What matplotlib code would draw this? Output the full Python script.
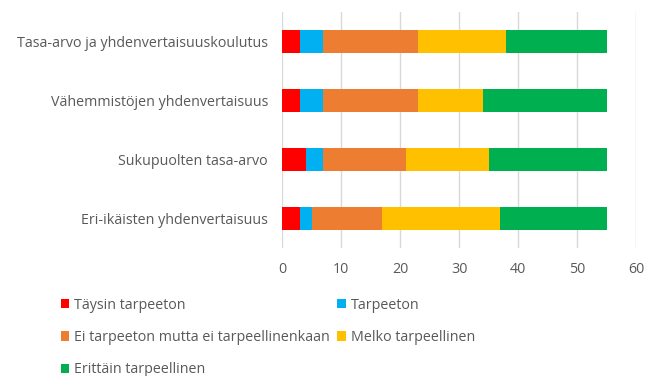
import matplotlib

matplotlib.use("Agg")
import matplotlib.pyplot as plt
from matplotlib.patches import Patch

CATEGORIES = [
    "Tasa-arvo ja yhdenvertaisuuskoulutus",
    "Vähemmistöjen yhdenvertaisuus",
    "Sukupuolten tasa-arvo",
    "Eri-ikäisten yhdenvertaisuus",
]

SERIES_NAMES = [
    "Täysin tarpeeton",
    "Tarpeeton",
    "Ei tarpeeton mutta ei tarpeellinenkaan",
    "Melko tarpeellinen",
    "Erittäin tarpeellinen",
]

TAYSIN_TARPEETON = [3, 3, 4, 3]
TARPEETON = [4, 4, 3, 2]
EI_TARPEETON = [16, 16, 14, 12]
MELKO_TARPEELLINEN = [15, 11, 14, 20]
ERITTAIN_TARPEELLINEN = [17, 21, 20, 18]

COLORS = ["#FF0000", "#00B0F0", "#ED7D31", "#FFC000", "#00B050"]
TEXT_COLOR = "#595959"

plt.rcParams.update(
    {
        "font.family": ["Open Sans", "DejaVu Sans"],
        "font.size": 10.3,
    }
)

fig = plt.figure(figsize=(6.45, 3.76), dpi=100)
# axes box in figure fractions (left, bottom, width, height)
ax = fig.add_axes([282 / 645, 1 - 248 / 376, 354 / 645, 236 / 376])

series = [TAYSIN_TARPEETON, TARPEETON, EI_TARPEETON, MELKO_TARPEELLINEN, ERITTAIN_TARPEELLINEN]
positions = list(range(len(CATEGORIES)))
left = [0] * len(CATEGORIES)
for values, color, name in zip(series, COLORS, SERIES_NAMES):
    ax.barh(positions, values, left=left, height=0.4, color=color, label=name, zorder=3)
    left = [a + b for a, b in zip(left, values)]

ax.set_ylim(len(CATEGORIES) - 0.5, -0.5)
ax.set_yticks(positions)
ax.set_yticklabels(CATEGORIES)
ax.set_xlim(0, 60)
ax.set_xticks(range(0, 61, 10))
ax.grid(axis="x", color="#D9D9D9", linewidth=1.0, zorder=0)
for spine in ax.spines.values():
    spine.set_visible(False)
ax.tick_params(axis="both", length=0, colors=TEXT_COLOR)
ax.tick_params(axis="y", pad=10)
ax.tick_params(axis="x", pad=10)

# legend reads row by row, matplotlib fills column by column
order = [0, 2, 4, 1, 3]
handles = [Patch(facecolor=COLORS[i], edgecolor="none") for i in order]
labels = [SERIES_NAMES[i] for i in order]
fig.legend(
    handles,
    labels,
    ncol=2,
    loc="upper left",
    bbox_to_anchor=(48 / 645, 1 - 285 / 376),
    frameon=False,
    handlelength=0.6,
    handleheight=0.6,
    handletextpad=0.35,
    columnspacing=0.5,
    labelspacing=1.2,
    labelcolor=TEXT_COLOR,
)

fig.savefig("out.png", dpi=100)
